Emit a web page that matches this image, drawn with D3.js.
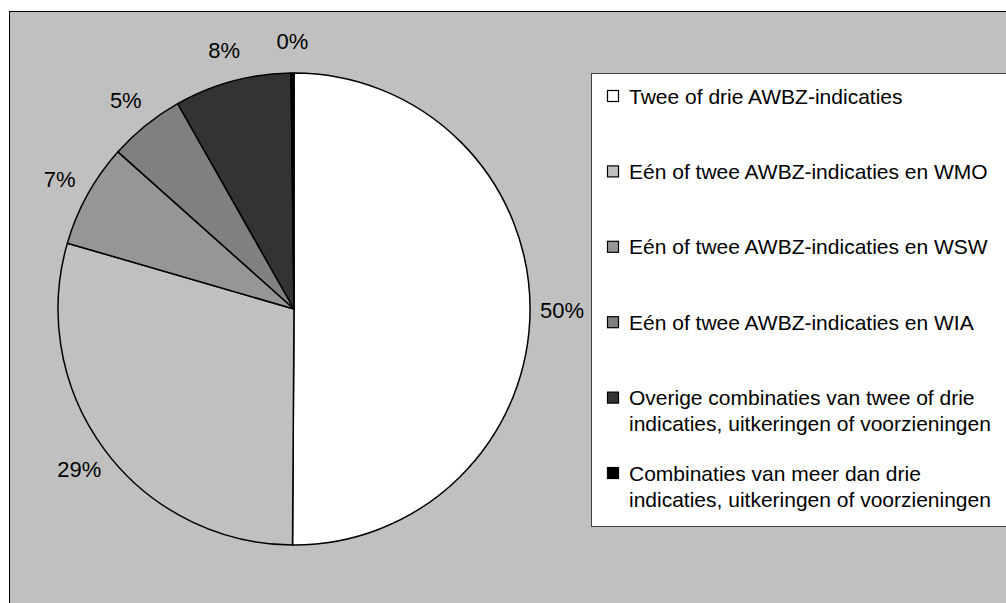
<!DOCTYPE html>
<html>
<head>
<meta charset="utf-8">
<script src="https://cdn.jsdelivr.net/npm/d3@7"></script>
<style>
  html, body { margin: 0; padding: 0; background: #ffffff; }
  svg { display: block; }
  text { font-family: "Liberation Sans", Arial, sans-serif; fill: #000; }
</style>
</head>
<body>
<svg id="chart" width="1006" height="603"></svg>
<script>
// ---- data ----
const categories = [
  "Twee of drie AWBZ-indicaties",
  "Eén of twee AWBZ-indicaties en WMO",
  "Eén of twee AWBZ-indicaties en WSW",
  "Eén of twee AWBZ-indicaties en WIA",
  "Overige combinaties van twee of drie|indicaties, uitkeringen of voorzieningen",
  "Combinaties van meer dan drie|indicaties, uitkeringen of voorzieningen"
];
const shares = [50.1, 29.4, 7.1, 5.2, 8.0, 0.2];
const colors = ["#ffffff", "#c0c0c0", "#969696", "#808080", "#333333", "#000000"];

// ---- layout ----
const svg = d3.select("#chart");
const cx = 294, cy = 309, R = 236, labelR = 268;

// chart area (extends beyond the visible window on right/bottom)
svg.append("rect")
  .attr("x", 9.5).attr("y", 11.5)
  .attr("width", 1100).attr("height", 700)
  .attr("fill", "#c0c0c0")
  .attr("stroke", "#000").attr("stroke-width", 1);

const data = categories.map((c, i) => ({ cat: c, value: shares[i], color: colors[i] }));
const total = d3.sum(shares);

const pie = d3.pie().value(d => d.value).sort(null);
const arcs = pie(data);
const arc = d3.arc().innerRadius(0).outerRadius(R);
const labelArc = d3.arc().innerRadius(labelR).outerRadius(labelR);
const fmt = d3.format(".0%");

const g = svg.append("g").attr("transform", `translate(${cx},${cy})`);
g.selectAll("path.slice")
  .data(arcs)
  .enter().append("path")
  .attr("class", "slice")
  .attr("d", arc)
  .attr("fill", d => d.data.color)
  .attr("stroke", "#000")
  .attr("stroke-width", 1.5)
  .attr("stroke-linejoin", "round");

g.selectAll("text.lbl")
  .data(arcs)
  .enter().append("text")
  .attr("class", "lbl")
  .attr("transform", d => `translate(${labelArc.centroid(d)})`)
  .attr("text-anchor", "middle")
  .attr("dy", "0.36em")
  .style("font-size", "22px")
  .text(d => fmt(d.data.value / total));

// ---- legend ----
const lg = svg.append("g");
lg.append("rect")
  .attr("x", 591.5).attr("y", 73.5)
  .attr("width", 500).attr("height", 453)
  .attr("fill", "#ffffff")
  .attr("stroke", "#404040").attr("stroke-width", 1);

const rowY = d3.scalePoint().domain(categories).range([96, 473]);

const items = lg.selectAll("g.item")
  .data(data)
  .enter().append("g")
  .attr("class", "item")
  .attr("transform", d => `translate(0,${rowY(d.cat)})`);

items.append("rect")
  .attr("x", 607.5).attr("y", -5.5)
  .attr("width", 11).attr("height", 11)
  .attr("fill", d => d.color)
  .attr("stroke", "#000").attr("stroke-width", 1.2);

items.append("text")
  .attr("x", 629)
  .style("font-size", "21px")
  .each(function(d) {
    const lines = d.cat.split("|");
    const t = d3.select(this);
    lines.forEach((ln, i) => {
      t.append("tspan")
        .attr("x", 629)
        .attr("y", i * 26)
        .attr("dy", "0.36em")
        .text(ln);
    });
  });
</script>
</body>
</html>
